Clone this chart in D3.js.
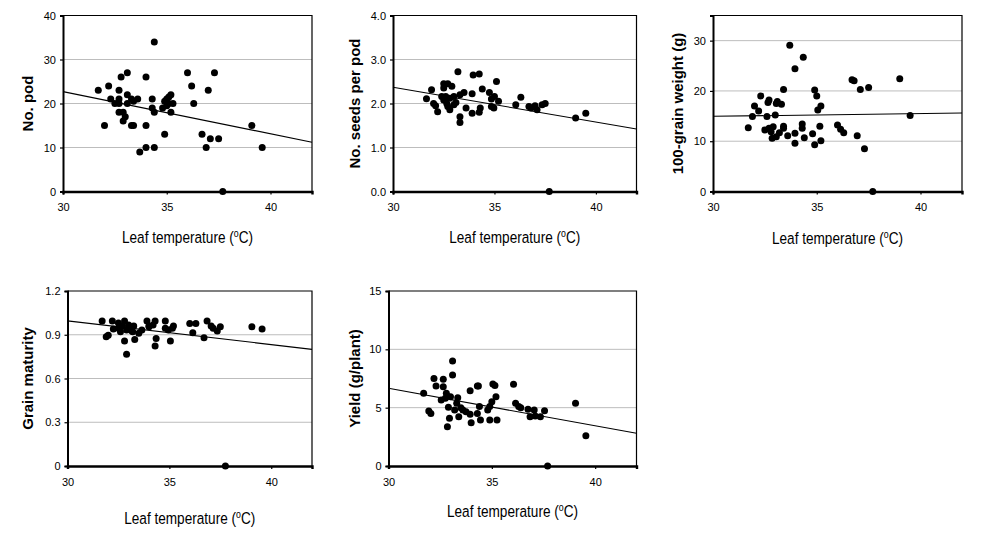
<!DOCTYPE html>
<html>
<head>
<meta charset="utf-8">
<script src="https://cdn.jsdelivr.net/npm/d3@7"></script>
<style>
  body { margin: 0; background: #fff; }
  text { font-family: Arial, 'Liberation Sans', sans-serif; fill: #000; }
</style>
</head>
<body>
<svg id="chart"></svg>
<script>
// data
const xTicks = [30, 35, 40];

const podTemp = [31.7, 32.0, 32.2, 32.3, 32.7, 32.7, 32.5, 32.7, 32.8, 33.1, 33.1, 32.9, 33.0, 32.9, 32.7, 33.1, 33.3, 33.4, 33.6, 33.3, 33.4, 34.0, 34.0, 34.0, 33.7, 34.3, 34.4, 34.3, 34.4, 34.4, 34.8, 34.9, 35.0, 35.1, 35.2, 35.2, 35.3, 35.0, 36.0, 36.2, 36.3, 36.7, 36.9, 37.0, 37.1, 37.3, 37.5, 37.7, 39.1, 39.6, 34.9, 35.1];
const podCount = [23, 15, 24, 21, 23, 21, 20, 20, 26, 27, 22, 18, 17, 16, 18, 20, 21, 20.5, 21, 15, 15, 26, 15, 10, 9, 21, 34, 19, 18, 10, 19, 13, 21, 20, 22, 18, 20, 19.5, 27, 24, 20, 13, 10, 23, 12, 27, 12, 0, 15, 10, 20.5, 21.5];
const podTicks = [0, 10, 20, 30, 40];

const seedTemp = [31.65, 31.9, 32.0, 32.1, 32.2, 32.5, 32.5, 32.7, 32.5, 32.6, 32.7, 32.8, 32.65, 32.9, 33.0, 33.0, 33.2, 33.3, 33.3, 33.3, 33.5, 33.6, 33.9, 33.95, 33.9, 34.25, 34.3, 34.4, 34.25, 34.75, 34.85, 34.85, 34.97, 35.0, 35.1, 35.2, 36.05, 36.3, 36.7, 36.8, 37.0, 37.1, 37.35, 37.5, 37.7, 39.0, 39.5, 32.4, 32.8, 33.1];
const seedsPerPod = [2.11, 2.31, 2.0, 1.95, 1.81, 2.35, 2.45, 2.45, 2.08, 2.16, 1.93, 1.86, 2.0, 2.39, 2.16, 1.97, 2.72, 1.7, 1.57, 2.2, 2.25, 1.9, 2.22, 2.65, 1.78, 2.67, 1.9, 2.33, 1.8, 2.25, 2.1, 1.93, 1.9, 2.16, 2.5, 2.05, 1.97, 2.14, 1.93, 1.9, 1.95, 1.86, 1.97, 2.0, 0, 1.67, 1.78, 2.16, 2.12, 2.02];
const seedTicks = [0, 1, 2, 3, 4];

const grainTemp = [31.7, 31.9, 32.0, 32.2, 32.3, 32.5, 32.6, 32.65, 32.7, 32.7, 32.8, 32.85, 32.9, 33.0, 33.05, 33.1, 33.05, 33.2, 33.3, 33.4, 33.4, 33.4, 33.6, 33.7, 33.95, 33.95, 33.95, 34.3, 34.3, 34.35, 34.4, 34.8, 34.9, 34.9, 35.0, 35.05, 35.2, 35.15, 35.2, 36.0, 36.15, 36.3, 36.7, 36.8, 36.95, 37.1, 37.3, 37.5, 37.7, 39.0, 39.5];
const grainWeight = [12.7, 14.9, 17.0, 16.0, 19.0, 12.25, 14.9, 17.7, 18.2, 12.6, 11.9, 10.6, 12.9, 15.2, 17.5, 17.9, 10.9, 11.7, 17.35, 20.3, 12.6, 13.0, 11.1, 29.1, 24.4, 11.6, 9.6, 13.4, 12.6, 26.7, 10.7, 11.5, 9.3, 20.2, 19.0, 16.2, 17.0, 13.0, 10.1, 13.2, 12.4, 11.7, 22.2, 22.0, 11.1, 20.3, 8.5, 20.7, 0, 22.4, 15.1];
const grainTicks = [0, 10, 20, 30];

const matTemp = [31.7, 31.9, 32.0, 32.2, 32.25, 32.5, 32.6, 32.7, 32.8, 32.8, 32.9, 33.0, 33.1, 33.15, 33.25, 33.3, 33.5, 33.65, 33.9, 34.0, 34.2, 34.3, 34.35, 34.3, 34.8, 34.8, 34.95, 35.05, 35.15, 35.2, 36.0, 36.15, 36.3, 36.7, 36.85, 37.05, 37.15, 37.35, 37.5, 37.75, 39.05, 39.55, 32.5, 32.9, 33.2, 34.0];
const maturity = [0.994, 0.887, 0.896, 0.994, 0.94, 0.98, 0.92, 0.96, 0.994, 0.857, 0.766, 0.967, 0.944, 0.928, 0.96, 0.868, 0.91, 0.933, 0.994, 0.955, 0.967, 0.994, 0.875, 0.823, 0.994, 0.944, 0.933, 0.857, 0.944, 0.96, 0.978, 0.914, 0.978, 0.88, 0.994, 0.96, 0.944, 0.926, 0.955, 0, 0.955, 0.94, 0.944, 0.933, 0.92, 0.96];
const matTicks = [0, 0.3, 0.6, 0.9, 1.2];

const yieldTemp = [31.7, 31.95, 32.05, 32.2, 32.3, 32.55, 32.65, 32.65, 32.75, 32.8, 32.85, 32.9, 32.95, 33.0, 33.1, 33.1, 33.2, 33.3, 33.35, 33.4, 33.5, 33.6, 33.75, 33.95, 33.95, 34.0, 34.3, 34.35, 34.3, 34.4, 34.45, 34.8, 34.9, 34.9, 35.0, 35.05, 35.15, 35.2, 35.25, 36.05, 36.15, 36.3, 36.4, 36.75, 36.85, 37.05, 37.1, 37.35, 37.55, 37.7, 39.05, 39.55];
const yieldPlant = [6.23, 4.71, 4.51, 7.51, 6.86, 5.66, 7.43, 6.8, 5.8, 6.23, 3.37, 5.03, 4.09, 5.94, 9.0, 7.8, 4.8, 5.37, 5.86, 4.23, 5.0, 4.8, 4.66, 6.46, 4.43, 3.71, 6.86, 6.86, 4.51, 5.09, 3.94, 4.8, 3.94, 5.09, 5.51, 7.03, 6.89, 5.94, 3.94, 7.0, 5.37, 5.09, 5.0, 4.86, 4.23, 4.8, 4.29, 4.23, 4.74, 0, 5.37, 2.6];
const yieldTicks = [0, 5, 10, 15];

// fitted line values at 30 and 42 degC, one per panel
const trendAt30 = [22.7, 2.37, 14.95, 0.995, 6.66];
const trendAt42 = [11.2, 1.42, 15.6, 0.80, 2.8];

const width = 984;
const height = 548;

const svg = d3.select('#chart')
  .attr('width', width)
  .attr('height', height);

const panels = [
  { xs: podTemp, ys: podCount, ticks: podTicks, fmt: d3.format('d'), yMax: 40, title: 'No. pod',
    left: 63, right: 312, top: 15.5, bottom: 191.5, titleX: 28, xTitleY: 243 },
  { xs: seedTemp, ys: seedsPerPod, ticks: seedTicks, fmt: d3.format('.1f'), yMax: 4, title: 'No. seeds per pod',
    left: 393, right: 636.5, top: 15.5, bottom: 191.5, titleX: 355, xTitleY: 243 },
  { xs: grainTemp, ys: grainWeight, ticks: grainTicks, fmt: d3.format('d'), yMax: 35, title: '100-grain weight (g)',
    left: 713, right: 962, top: 15.5, bottom: 191.5, titleX: 678, xTitleY: 244 },
  { xs: matTemp, ys: maturity, ticks: matTicks, fmt: d => d === 0 ? '0' : d3.format('.1f')(d), yMax: 1.2, title: 'Grain maturity',
    left: 67.5, right: 312, top: 291, bottom: 466, titleX: 28, xTitleY: 524 },
  { xs: yieldTemp, ys: yieldPlant, ticks: yieldTicks, fmt: d3.format('d'), yMax: 15, title: 'Yield (g/plant)',
    left: 388.5, right: 636.5, top: 291, bottom: 466, titleX: 355, xTitleY: 517 }
];

panels.forEach((p, i) => {
  const x = d3.scaleLinear().domain([30, 42]).range([p.left, p.right]);
  const y = d3.scaleLinear().domain([0, p.yMax]).range([p.bottom, p.top]);
  const g = svg.append('g');

  // gridlines
  g.selectAll('.grid')
    .data(p.ticks.filter(t => t > 0 && t < p.yMax))
    .enter()
    .append('line')
    .attr('x1', p.left)
    .attr('x2', p.right)
    .attr('y1', d => y(d))
    .attr('y2', d => y(d))
    .attr('stroke', '#bdbdbd')
    .attr('stroke-width', 1);

  // frame on top and right
  g.append('path')
    .attr('d', `M${p.left},${p.top}H${p.right}V${p.bottom}`)
    .attr('fill', 'none')
    .attr('stroke', '#000')
    .attr('stroke-width', 1.2);

  // axes
  const yAxis = d3.axisLeft(y).tickValues(p.ticks).tickFormat(p.fmt).tickSize(3).tickPadding(4);
  const xAxis = d3.axisBottom(x).tickValues(xTicks).tickSize(3).tickPadding(9);

  const ya = g.append('g')
    .attr('transform', `translate(${p.left},0)`)
    .call(yAxis);
  const xa = g.append('g')
    .attr('transform', `translate(0,${p.bottom})`)
    .call(xAxis);

  [ya, xa].forEach(a => {
    a.select('.domain').attr('stroke', '#000').attr('stroke-width', 2);
    a.selectAll('.tick line').attr('stroke', '#000').attr('stroke-width', 1.2);
    a.selectAll('text')
      .attr('font-size', 11)
      .attr('font-family', "Arial, 'Liberation Sans', sans-serif")
      .attr('fill', '#000');
  });
  xa.select('.domain').attr('stroke-width', 2.4);

  // trend line
  g.append('line')
    .attr('x1', x(30))
    .attr('x2', x(42))
    .attr('y1', y(trendAt30[i]))
    .attr('y2', y(trendAt42[i]))
    .attr('stroke', '#000')
    .attr('stroke-width', 1.1);

  // points
  g.selectAll('circle')
    .data(p.xs.map((t, k) => [t, p.ys[k]]))
    .enter()
    .append('circle')
    .attr('cx', d => x(d[0]))
    .attr('cy', d => y(d[1]))
    .attr('r', 3.5)
    .attr('fill', '#000');

  // y title
  g.append('text')
    .attr('transform', `translate(${p.titleX},${(p.top + p.bottom) / 2}) rotate(-90)`)
    .attr('text-anchor', 'middle')
    .attr('dy', '0.35em')
    .attr('font-size', 15)
    .attr('font-weight', 'bold')
    .text(p.title);

  // x title, squeezed sideways like the original
  const xt = g.append('text')
    .attr('transform', `translate(${(p.left + p.right) / 2},${p.xTitleY}) scale(0.8,1)`)
    .attr('text-anchor', 'middle')
    .attr('font-size', 17);
  xt.append('tspan').text('Leaf temperature (');
  xt.append('tspan').attr('font-size', 11).attr('dy', -6).text('o');
  xt.append('tspan').attr('dy', 6).text('C)');
});
</script>
</body>
</html>
